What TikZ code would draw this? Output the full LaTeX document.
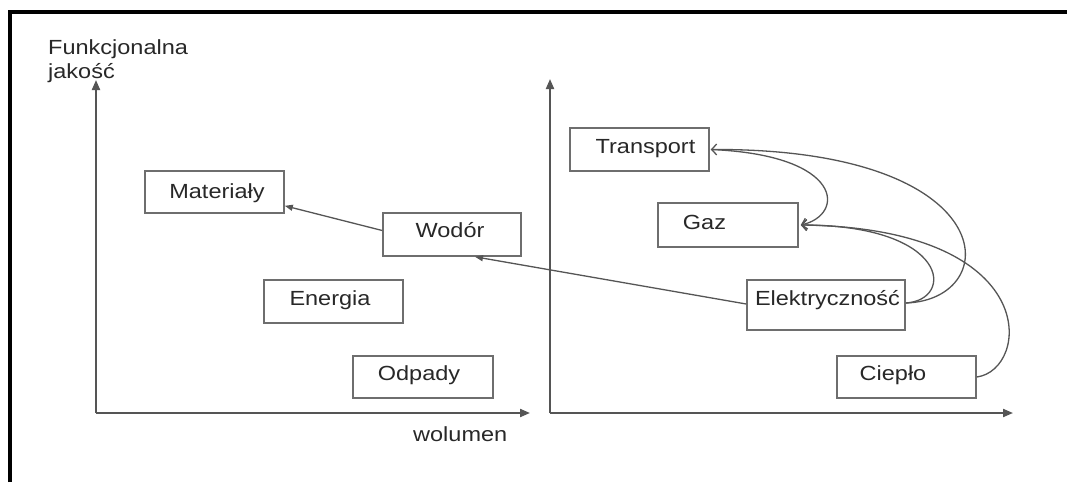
\documentclass[tikz,border=0pt]{standalone}
\usepackage{fontspec}
\setmainfont{Liberation Sans}
\usetikzlibrary{arrows.meta}
\newcommand\sqz[1]{\scalebox{1}[0.87]{#1}}
\definecolor{boxgray}{RGB}{110,110,110}
\definecolor{axgray}{RGB}{85,85,85}
\definecolor{txt}{RGB}{40,40,40}
\tikzset{
  box/.style={draw=boxgray, line width=1.6pt, inner sep=0pt},
  lbl/.style={anchor=base, inner sep=0pt, text=txt, font=\fontsize{23.5}{24}\selectfont},
  axis/.style={draw=axgray, line width=2pt, -{Triangle[length=10pt,width=8pt]}},
  link/.style={draw=axgray, line width=1.3pt, -{Triangle[length=8pt,width=6pt]}},
  curvelink/.style={draw=axgray, line width=1.3pt, -{Straight Barb[length=5pt,width=11pt]}},
}
\begin{document}
\begin{tikzpicture}[x=1pt,y=-1pt]
\useasboundingbox (0,0) rectangle (1067,482);
\fill[white] (0,0) rectangle (1067,482);
% frame
\draw[black, line width=4pt] (10,482) -- (10,12) -- (1067,12);

% axes
\coordinate (O1) at (96,413);
\coordinate (Y1) at (96,80);
\coordinate (X1) at (530,413);
\coordinate (O2) at (550,413);
\coordinate (Y2) at (550,79);
\coordinate (X2) at (1013,413);
\draw[axis] (O1) -- (Y1);
\draw[axis] (O1) -- (X1);
\draw[axis] (O2) -- (Y2);
\draw[axis] (O2) -- (X2);

% axis labels
\node[anchor=north west, inner sep=0pt, align=left, text=txt, font=\fontsize{23.5}{24}\selectfont] (ylab) at (48,39) {\sqz{Funkcjonalna}\\\sqz{jakość}};
\node[lbl, anchor=base west] (xlab) at (413,441) {\sqz{wolumen}};

% boxes left
\node[box, minimum width=139pt, minimum height=42pt] (mat) at (214.5,192) {};
\node[lbl] (matT) at (217,198) {\sqz{Materiały}};
\node[box, minimum width=138pt, minimum height=43pt] (wod) at (452,234.5) {};
\node[lbl] (wodT) at (450,237) {\sqz{Wodór}};
\node[box, minimum width=139pt, minimum height=43pt] (ene) at (333.5,301.5) {};
\node[lbl] (eneT) at (330,305) {\sqz{Energia}};
\node[box, minimum width=140pt, minimum height=42pt] (odp) at (423,377) {};
\node[lbl] (odpT) at (419,380.5) {\sqz{Odpady}};

% boxes right
\node[box, minimum width=139pt, minimum height=43pt] (tra) at (639.5,149.5) {};
\node[lbl] (traT) at (645.5,153) {\sqz{Transport}};
\node[box, minimum width=140pt, minimum height=44pt] (gaz) at (728,225) {};
\node[lbl] (gazT) at (704.5,229) {\sqz{Gaz}};
\node[box, minimum width=158pt, minimum height=50pt] (ele) at (826,305) {};
\node[lbl] (eleT) at (827.5,305) {\sqz{Elektryczność}};
\node[box, minimum width=139pt, minimum height=42pt] (cie) at (906.5,377) {};
\node[lbl] (cieT) at (893,380) {\sqz{Ciepło}};

% connectors
\draw[link] ([yshift=4pt]wod.west) -- ([yshift=8pt]mat.south east);
\draw[link] ([yshift=1pt]ele.west) -- ([xshift=23pt]wod.south);
\draw[curvelink] ([yshift=2pt]ele.east) .. controls (1005,300) and (1005,148) .. ([xshift=1pt]tra.east);
\draw[curvelink] ([yshift=2pt]ele.east) .. controls (955,300) and (950,225) .. ([xshift=2pt]gaz.east);
\draw[curvelink] (cie.east) .. controls (1030,370) and (1045,228) .. ([xshift=2pt]gaz.east);
\draw[curvelink] ([xshift=1pt]tra.east) .. controls (845,155) and (845,215) .. ([xshift=2pt]gaz.east);
\end{tikzpicture}
\end{document}
